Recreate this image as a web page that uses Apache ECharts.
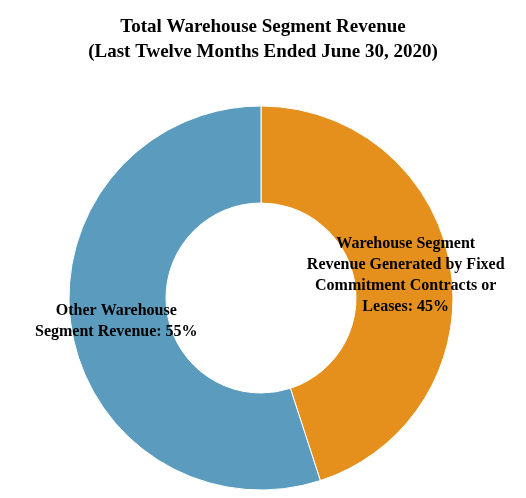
<!DOCTYPE html>
<html><head><meta charset="utf-8">
<script src="https://cdn.jsdelivr.net/npm/echarts@6/dist/echarts.min.js"></script>
<style>html,body{margin:0;padding:0;background:#fff}#c{width:526px;height:498px}</style>
</head><body><div id="c"></div>
<script>
const categories = ["Warehouse Segment\nRevenue Generated by Fixed\nCommitment Contracts or\nLeases: 45%", "Other Warehouse\nSegment Revenue: 55%"];
const values = [45, 55];
const colors = ["#E5901C", "#5A9BBE"];
const chart = echarts.init(document.getElementById('c'));
chart.setOption({
  title: {
    text: "Total Warehouse Segment Revenue\n(Last Twelve Months Ended June 30, 2020)",
    left: 'center', top: 10,
    textStyle: {fontFamily: 'Liberation Serif', fontWeight: 'bold', fontSize: 19, color: '#000', lineHeight: 25}
  },
  series: [{
    type: 'pie',
    center: [261, 298],
    radius: [95, 192],
    startAngle: 90,
    clockwise: true,
    itemStyle: {borderColor: '#fff', borderWidth: 1},
    label: {
      position: 'inside',
      fontFamily: 'Liberation Serif', fontWeight: 'bold', fontSize: 16, lineHeight: 21,
      color: '#000', formatter: '{b}'
    },
    emphasis: {disabled: true},
    data: categories.map((n, i) => ({name: n, value: values[i], itemStyle: {color: colors[i]}}))
  }]
});
</script></body></html>
